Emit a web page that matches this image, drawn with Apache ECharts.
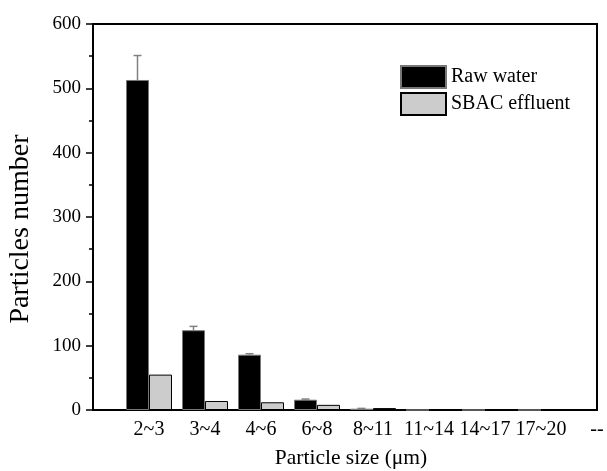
<!DOCTYPE html>
<html>
<head>
<meta charset="utf-8">
<script src="https://cdn.jsdelivr.net/npm/echarts@6/dist/echarts.min.js"></script>
<style>
  html, body { margin: 0; padding: 0; background: #fff; }
  #chart { width: 607px; height: 471px; }
</style>
</head>
<body>
<div id="chart"></div>
<script>
// particle size classes (blank first slot and '--' last slot sit on the frame edges)
const categories = ['', '2~3', '3~4', '4~6', '6~8', '8~11', '11~14', '14~17', '17~20', '--']
const rawWater = [null, 513, 124, 86, 16, 2, 0, 0, 0, null]
const rawWaterErr = [null, 38, 6, 1.5, 1, 0.5, 0, 0, 0, null]
const sbacEffluent = [null, 55, 14, 12, 8, 3, 0, 0, 0, null]
const yTicks = [0, 100, 200, 300, 400, 500, 600]

const FONT = 'Liberation Serif'
const BAR_W = 23

const errData = []
for (let i = 0; i < categories.length; i++) {
  if (rawWater[i] !== null && rawWaterErr[i] > 0) {
    errData.push([categories[i], rawWater[i], rawWaterErr[i]])
  }
}

const chart = echarts.init(document.getElementById('chart'))
const option = {
  animation: false,
  backgroundColor: '#fff',
  textStyle: { fontFamily: FONT, color: '#000' },
  grid: {
    left: 93,
    right: 10,
    top: 24,
    bottom: 61,
    outerBoundsMode: 'none', // keep the plot box where it is, names may sit near the edge
    show: true,
    borderColor: '#000',
    borderWidth: 2
  },
  legend: {
    data: ['Raw water', 'SBAC effluent'],
    orient: 'vertical',
    left: 400,
    top: 65,
    padding: 0,
    itemWidth: 45,
    itemHeight: 22,
    itemGap: 3,
    icon: 'rect',
    textStyle: { fontFamily: FONT, fontSize: 20, color: '#000' }
  },
  xAxis: {
    type: 'category',
    data: categories,
    boundaryGap: false,
    name: 'Particle size (μm)',
    nameLocation: 'middle',
    nameGap: 37,
    nameTextStyle: { fontFamily: FONT, fontSize: 21.5, color: '#000', padding: [0, 0, 0, 12] },
    axisLine: { lineStyle: { color: '#000', width: 2 } },
    axisTick: { show: false },
    axisLabel: {
      interval: 0,
      margin: 10,
      fontFamily: FONT,
      fontSize: 20,
      color: '#000'
    },
    splitLine: { show: false }
  },
  yAxis: {
    type: 'value',
    min: yTicks[0],
    max: yTicks[yTicks.length - 1],
    interval: 100,
    name: 'Particles number',
    nameLocation: 'middle',
    nameRotate: 90,
    nameGap: 58,
    nameTextStyle: { fontFamily: FONT, fontSize: 28, color: '#000', padding: [0, 24, 0, 0] },
    axisLine: { show: true, lineStyle: { color: '#000', width: 2 } },
    axisTick: { show: true, inside: false, length: 7, lineStyle: { color: '#000', width: 1.5 } },
    minorTick: { show: true, splitNumber: 2, length: 4, lineStyle: { color: '#000', width: 1.5 } },
    axisLabel: { margin: 12, fontFamily: FONT, fontSize: 19, color: '#000' },
    splitLine: { show: false }
  },
  series: [
    {
      name: 'Raw water',
      type: 'bar',
      data: rawWater,
      barWidth: BAR_W,
      barGap: '0%',
      itemStyle: { color: '#000', borderColor: '#777', borderWidth: 1 }
    },
    {
      name: 'SBAC effluent',
      type: 'bar',
      data: sbacEffluent,
      barWidth: BAR_W,
      barGap: '0%',
      itemStyle: { color: '#cccccc', borderColor: '#000', borderWidth: 1 }
    },
    {
      // error bars on the raw water bars
      name: 'err',
      type: 'custom',
      data: errData,
      encode: { x: 0, y: 1 },
      z: 5,
      renderItem: function (params, api) {
        const cat = api.value(0)
        const v = api.value(1)
        const e = api.value(2)
        const base = api.coord([cat, v])
        const top = api.coord([cat, v + e])
        const x = base[0] - BAR_W / 2
        const style = { stroke: '#808080', lineWidth: 1.5 }
        return {
          type: 'group',
          children: [
            { type: 'line', shape: { x1: x, y1: base[1], x2: x, y2: top[1] }, style: style },
            { type: 'line', shape: { x1: x - 4, y1: top[1], x2: x + 4, y2: top[1] }, style: style }
          ]
        }
      }
    }
  ]
}
chart.setOption(option)
</script>
</body>
</html>
